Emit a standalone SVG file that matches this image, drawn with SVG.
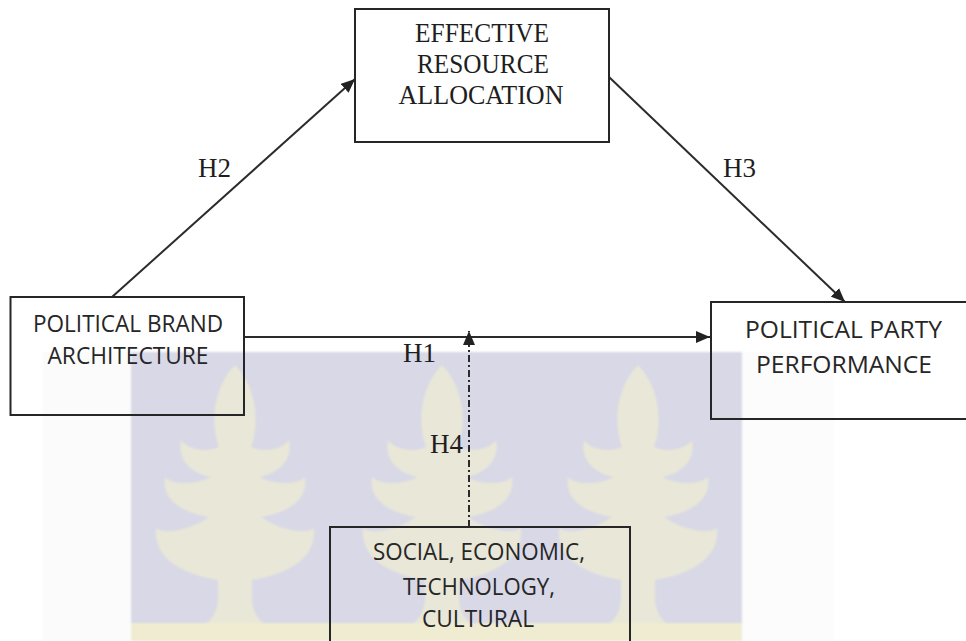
<svg xmlns="http://www.w3.org/2000/svg" width="966" height="641" viewBox="0 0 966 641">
  <style>
    .box { fill: none; stroke: #262626; stroke-width: 2; }
    .link { fill: none; stroke: #2b2b2b; stroke-width: 2; }
    .dashed { stroke-dasharray: 7 3 2 3; }
    .serif { font-family: "Liberation Serif", "Times New Roman", serif; fill: #1e1e1e; }
    .sans { font-family: "Open Sans", "Liberation Sans", Arial, sans-serif; fill: #262626; }
    .node-text { font-size: 24px; text-anchor: middle; }
    .title-text { font-size: 27px; text-anchor: middle; }
    .hyp { font-size: 27px; }
    .leaf { fill: #e9e7d8; }
  </style>
  <defs>
    <marker id="arrow" markerUnits="userSpaceOnUse" markerWidth="14" markerHeight="12" refX="14" refY="6" orient="auto">
      <path d="M0,0 L14,6 L0,12 Z" fill="#222"/>
    </marker>
    <filter id="soft" x="-5%" y="-5%" width="110%" height="110%">
      <feGaussianBlur stdDeviation="1.2"/>
    </filter>
    <!-- stylised tree: central leaf, three tiers of side leaves, flared trunk -->
    <path id="tree" d="M0,0 C20,20 26,55 16,82 C30,88 48,84 54,75 C58,95 44,108 24,112 C40,120 62,120 70,112 C74,135 52,148 26,152 C45,165 70,170 79,163 C82,195 50,210 17,215 L17,235 C18,248 24,254 28,258 L-28,258 C-24,254 -18,248 -17,235 L-17,215 C-50,210 -82,195 -79,163 C-70,170 -45,165 -26,152 C-52,148 -74,135 -70,112 C-62,120 -40,120 -24,112 C-44,108 -58,95 -54,75 C-48,84 -30,88 -16,82 C-26,55 -20,20 0,0 Z"/>
  </defs>

  <rect width="966" height="641" fill="#ffffff"/>

  <!-- background emblem -->
  <g id="emblem" filter="url(#soft)">
    <rect x="43" y="352" width="88" height="289" fill="#fbfbfc"/>
    <rect x="742" y="352" width="92" height="289" fill="#fcfcfd"/>
    <rect x="131" y="352" width="611" height="289" fill="#d8d8e6"/>
    <use href="#tree" class="leaf" transform="translate(235,365)"/>
    <use href="#tree" class="leaf" transform="translate(442,365)"/>
    <use href="#tree" class="leaf" transform="translate(638,365)"/>
    <rect x="131" y="623" width="611" height="18" fill="#efecd2"/>
  </g>

  <!-- connectors -->
  <g id="connectors">
    <line class="link" x1="112" y1="297" x2="355" y2="79" marker-end="url(#arrow)"/>
    <line class="link" x1="609" y1="77" x2="845" y2="302" marker-end="url(#arrow)"/>
    <line class="link" x1="244" y1="337" x2="710" y2="337" marker-end="url(#arrow)"/>
    <line class="link dashed" x1="469" y1="527" x2="469" y2="331" marker-end="url(#arrow)"/>
    <text class="serif hyp" x="198" y="177">H2</text>
    <text class="serif hyp" x="723" y="177">H3</text>
    <text class="serif hyp" x="403" y="362">H1</text>
    <text class="serif hyp" x="430" y="453">H4</text>
  </g>

  <g id="effective-resource-allocation">
    <rect class="box" x="355" y="9" width="254" height="133"/>
    <text class="serif title-text" x="482" y="42" textLength="134" lengthAdjust="spacingAndGlyphs">EFFECTIVE</text>
    <text class="serif title-text" x="483" y="73" textLength="132" lengthAdjust="spacingAndGlyphs">RESOURCE</text>
    <text class="serif title-text" x="481" y="104" textLength="165" lengthAdjust="spacingAndGlyphs">ALLOCATION</text>
  </g>

  <g id="political-brand-architecture">
    <rect class="box" x="10.5" y="297" width="233.5" height="118"/>
    <text class="sans node-text" x="128" y="332" textLength="190" lengthAdjust="spacingAndGlyphs">POLITICAL BRAND</text>
    <text class="sans node-text" x="128" y="364" textLength="161" lengthAdjust="spacingAndGlyphs">ARCHITECTURE</text>
  </g>

  <g id="political-party-performance">
    <rect class="box" x="711" y="302" width="270" height="117"/>
    <text class="sans node-text" x="843.5" y="338" textLength="197" lengthAdjust="spacingAndGlyphs">POLITICAL PARTY</text>
    <text class="sans node-text" x="844" y="373" textLength="176" lengthAdjust="spacingAndGlyphs">PERFORMANCE</text>
  </g>

  <g id="social-economic-technology-cultural">
    <rect class="box" x="330" y="527" width="300" height="130"/>
    <text class="sans node-text" x="479" y="560" textLength="212" lengthAdjust="spacingAndGlyphs">SOCIAL, ECONOMIC,</text>
    <text class="sans node-text" x="479" y="595" textLength="152" lengthAdjust="spacingAndGlyphs">TECHNOLOGY,</text>
    <text class="sans node-text" x="478" y="627" textLength="112" lengthAdjust="spacingAndGlyphs">CULTURAL</text>
  </g>
</svg>
